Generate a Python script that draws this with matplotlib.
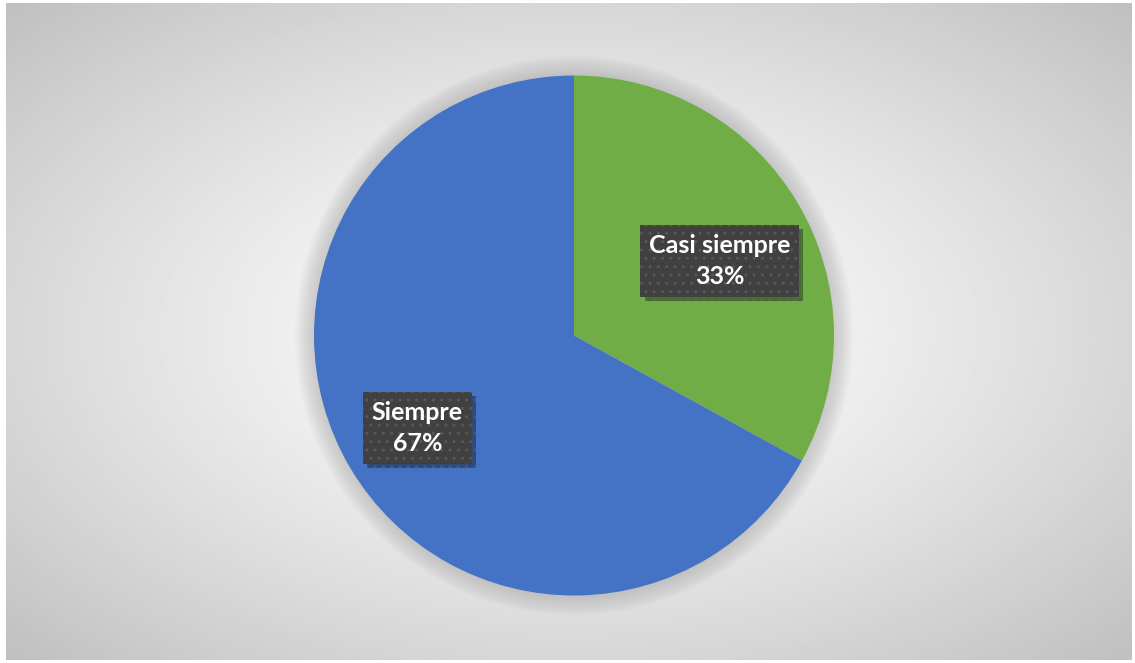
import numpy as np
import matplotlib
matplotlib.use("Agg")
import matplotlib.pyplot as plt
import matplotlib.patheffects as pe
from matplotlib.patches import Circle

# Survey answers and their shares
categories = ["Casi siempre", "Siempre"]
shares = [33, 67]
colors = ["#70ad47", "#4472c4"]

W, H = 1135, 663
fig = plt.figure(figsize=(W / 100, H / 100), dpi=100)
fig.patch.set_facecolor("white")

# Radial gradient background of the chart area
bg = fig.add_axes([6 / W, 3 / H, 1126 / W, 657 / H])
bg.set_axis_off()
yy, xx = np.mgrid[-1:1:400j, -1:1:700j]
rr = np.sqrt(xx ** 2 + yy ** 2) / np.sqrt(2)
shade = 1.0 - 0.25 * np.clip(rr, 0, 1) ** 1.3
bg.imshow(shade, cmap="gray", vmin=0, vmax=1, aspect="auto",
          extent=[0, 1, 0, 1], interpolation="bilinear")
bg.set_xlim(0, 1)
bg.set_ylim(0, 1)

# Pie axes: centre (574, 335), radius ~260 px
R = 260
cx, cy = 574, H - 335.5
ax = fig.add_axes([(cx - R) / W, (cy - R) / H, 2 * R / W, 2 * R / H])
ax.set_xlim(-1, 1)
ax.set_ylim(-1, 1)
ax.set_axis_off()

# soft glow around the pie
n_glow = 14
for k in range(n_glow):
    ax.add_patch(Circle((0, 0), 1.0 + 0.075 * (n_glow - k) / n_glow,
                        facecolor="#808080", alpha=0.022, edgecolor="none",
                        zorder=0, clip_on=False))

wedges, _ = ax.pie(shares, colors=colors, startangle=90, counterclock=False,
                   radius=1, wedgeprops=dict(linewidth=0), center=(0, 0))
for w in wedges:
    w.set_zorder(2)
ax.set_xlim(-1, 1)
ax.set_ylim(-1, 1)

# label placement: distance from centre and angle nudge (degrees)
label_dist = [0.63, 0.70]
label_nudge = [-3.5, 0.0]
start = 90.0
for name, val, dist, nudge in zip(categories, shares, label_dist, label_nudge):
    mid = start - val / 100 * 360 / 2 + nudge
    start -= val / 100 * 360
    x = dist * np.cos(np.radians(mid))
    y = dist * np.sin(np.radians(mid))
    t = ax.text(x, y, f"{name}\n{val}%", ha="center", va="center",
                color="white", fontsize=18, fontweight="bold",
                family=["Lato", "DejaVu Sans"], linespacing=1.45, zorder=5,
                bbox=dict(boxstyle="square,pad=0.35", facecolor="#404040",
                          edgecolor="#575757", hatch="..", linewidth=0))
    t.get_bbox_patch().set_path_effects(
        [pe.SimplePatchShadow(offset=(3, -3), shadow_rgbFace="#000000", alpha=0.35),
         pe.Normal()])

fig.savefig("out.png", dpi=100)
